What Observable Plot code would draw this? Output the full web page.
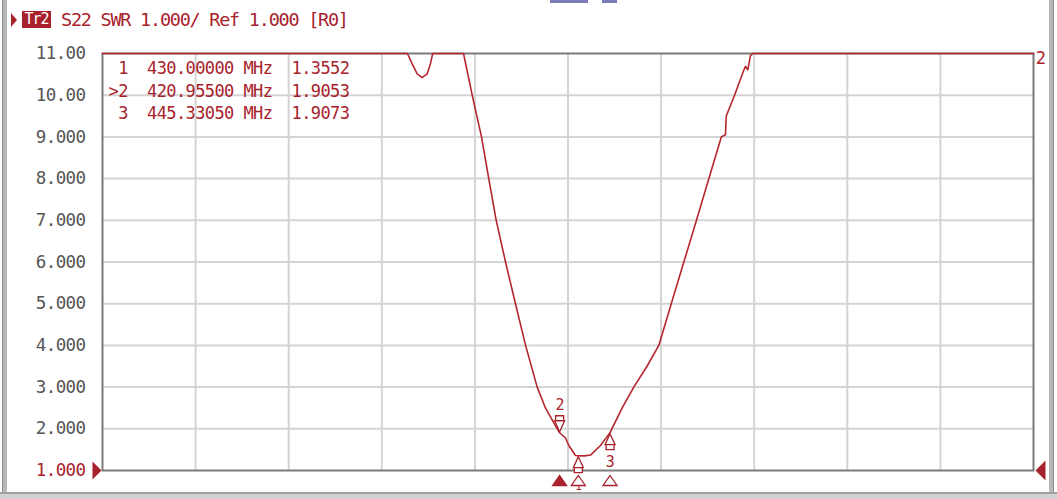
<!DOCTYPE html>
<html>
<head>
<meta charset="utf-8">
<script src="https://cdn.jsdelivr.net/npm/d3@7"></script>
<script src="https://cdn.jsdelivr.net/npm/@observablehq/plot@0.6"></script>
<style>
  html, body { margin: 0; padding: 0; background: #ffffff; }
  #wrap { position: relative; width: 1057px; height: 499px; overflow: hidden; background: #fff; }
  #chart { position: absolute; left: 0; top: 0; }
  #chart svg text { white-space: pre; letter-spacing: -0.6px; }
  .hdr { position: absolute; font-family: "DejaVu Sans Mono", monospace; color: #a8222c; white-space: pre; }
</style>
</head>
<body>
<div id="wrap">
  <div id="chart"></div>
  <div style="position:absolute;left:2px;top:0;width:4px;height:499px;background:#b8b8b8;border-left:1px solid #8c8c8c;"></div>
  <div style="position:absolute;left:1049px;top:0;width:4px;height:499px;background:#b8b8b8;border-right:1px solid #8c8c8c;"></div>
  <div style="position:absolute;left:0;top:492px;width:1057px;height:7px;background:#d2d2d2;border-top:2px solid #a0a0a0;"></div>
  <div style="position:absolute;left:550px;top:0;width:38px;height:3px;background:#5b57a8;opacity:0.8;"></div>
  <div style="position:absolute;left:602px;top:0;width:15px;height:3px;background:#5b57a8;opacity:0.8;"></div>
  <div style="position:absolute;left:11px;top:13px;width:0;height:0;border-top:7px solid transparent;border-bottom:7px solid transparent;border-left:6px solid #a8222c;"></div>
  <div class="hdr" style="left:22px;top:11px;width:29px;height:17px;background:#a8222c;color:#fff;font-size:15px;line-height:17px;text-align:center;letter-spacing:-1px;">Tr2</div>
  <div class="hdr" id="hdrtext" style="left:61px;top:8px;font-size:18.5px;line-height:24px;letter-spacing:-1.25px;"></div>
</div>
<script>
// ---- data ----
const headerText = "S22 SWR 1.000/ Ref 1.000 [R0]";

// trace: frequency (MHz, span 200–650) and SWR (clipped at top of scale, 11)
const freqMHz = [200, 347.4, 349.7, 352.1, 354.5, 356.9, 358.5, 359.6, 374.5, 378.7, 383.2, 386.7, 390.3, 394.8, 399.6, 404.5, 410.1, 414.1, 419.8, 420.955, 423.8, 425.4, 428.6, 430.0, 433.0, 435.9, 440.7, 444.6, 445.33, 451.2, 456.8, 463.2, 468.9, 474.9, 481.0, 487.1, 493.1, 499.1, 501.1, 501.5, 505.5, 509.9, 510.8, 511.9, 513.2, 514.3, 650];
const swr     = [11,  11,    10.75, 10.51, 10.42, 10.51, 10.75, 11,    11,    10,    9,     8,     7,     6,     5,     4,     3,     2.5,   2,     1.9053,  1.78,  1.60,  1.36,  1.3552, 1.35, 1.37, 1.60, 1.86,  1.9073, 2.5,  3,     3.5,   4,     5,     6,     7,     8,     9,     9.05,  9.5,   10,    10.59, 10.69, 10.61, 10.95, 11,    11];

// markers
const markerId = [1, 2, 3];
const markerFreq = [430.0, 420.955, 445.3305];
const markerSwr = [1.3552, 1.9053, 1.9073];
const markerFreqLabel = ["430.00000", "420.95500", "445.33050"];
const markerValLabel = ["1.3552", "1.9053", "1.9073"];
const activeMarker = 2;

// axes
const yTicks = [1, 2, 3, 4, 5, 6, 7, 8, 9, 10, 11];
const yTickLabels = ["1.000", "2.000", "3.000", "4.000", "5.000", "6.000", "7.000", "8.000", "9.000", "10.00", "11.00"];
const xGrid = [245, 290, 335, 380, 425, 470, 515, 560, 605];

// ---- build ----
document.getElementById("hdrtext").textContent = headerText;

const RED = "#a8222c";
const TRACE = "#b5262f";
const GRAY = "#555555";

const trace = freqMHz.map((f, i) => ({f, s: swr[i]}));
const markers = markerId.map((id, i) => ({id, f: markerFreq[i], s: markerSwr[i]}));
const tableText = markers.map((m, i) =>
  (m.id === activeMarker ? ">" : " ") + m.id + "  " + markerFreqLabel[i] + " MHz  " + markerValLabel[i]
).join("\n");

const upMarker = {draw(c) {
  c.moveTo(0, 1); c.lineTo(5, 12); c.lineTo(-5, 12); c.closePath();
  c.moveTo(-4, 12); c.lineTo(4, 12); c.lineTo(4, 17); c.lineTo(-4, 17); c.closePath();
}};
const downMarker = {draw(c) {
  c.moveTo(0, -1); c.lineTo(5, -12); c.lineTo(-5, -12); c.closePath();
  c.moveTo(-4, -12); c.lineTo(4, -12); c.lineTo(4, -17); c.lineTo(-4, -17); c.closePath();
}};
const bottomTri = {draw(c) { c.moveTo(0, 5); c.lineTo(7, 15); c.lineTo(-7, 15); c.closePath(); }};
const leftRef = {draw(c) { c.moveTo(-10, -9); c.lineTo(-1, 0); c.lineTo(-10, 9); c.closePath(); }};
const rightRef = {draw(c) { c.moveTo(12, -10); c.lineTo(2, 0); c.lineTo(12, 10); c.closePath(); }};

const mono = "DejaVu Sans Mono";

const chart = Plot.plot({
  width: 1057,
  height: 499,
  marginTop: 53,
  marginBottom: 29,
  marginLeft: 102,
  marginRight: 24,
  style: {fontFamily: mono, background: "transparent", overflow: "visible"},
  x: {domain: [200, 650], axis: null, label: null},
  y: {domain: [1, 11], axis: null, label: null},
  marks: [
    Plot.gridX(xGrid, {stroke: "#d4d4d4", strokeOpacity: 1, strokeWidth: 2}),
    Plot.gridY(yTicks.slice(1, -1), {stroke: "#d4d4d4", strokeOpacity: 1, strokeWidth: 2}),
    Plot.frame({stroke: "#7a7a7a", strokeWidth: 2}),
    Plot.axisY(yTicks.slice(1), {
      label: null, tickSize: 0, tickPadding: 17, fontSize: 17.5, fill: GRAY,
      tickFormat: d => yTickLabels[yTicks.indexOf(d)]
    }),
    Plot.axisY([1], {
      label: null, tickSize: 0, tickPadding: 17, fontSize: 17.5, fill: RED,
      tickFormat: d => yTickLabels[yTicks.indexOf(d)]
    }),
    Plot.text([tableText], {
      text: d => d, frameAnchor: "top-left", dx: 6, dy: 36,
      lineAnchor: "middle", textAnchor: "start", lineHeight: 1.3,
      fontSize: 17, fill: RED
    }),
    Plot.line(trace, {x: "f", y: "s", stroke: TRACE, strokeWidth: 1.6}),
    Plot.dot(markers.filter(m => m.id === activeMarker), {x: "f", y: "s", symbol: downMarker, stroke: RED, fill: "white", strokeWidth: 1.3}),
    Plot.dot(markers.filter(m => m.id !== activeMarker), {x: "f", y: "s", symbol: upMarker, stroke: RED, fill: "white", strokeWidth: 1.3}),
    Plot.text(markers.filter(m => m.id === activeMarker), {x: "f", y: "s", text: d => String(d.id), dy: -28, fill: RED, fontSize: 15}),
    Plot.text(markers.filter(m => m.id === 3), {x: "f", y: "s", text: d => String(d.id), dy: 30, fill: RED, fontSize: 15}),
    Plot.text(markers.filter(m => m.id === 1), {x: "f", y: () => 1, text: d => String(d.id), dy: 16, fill: RED, fontSize: 11}),
    Plot.dot(markers, {x: "f", y: () => 1, symbol: bottomTri, stroke: RED, strokeWidth: 1.3,
      fill: d => d.id === activeMarker ? RED : "white"}),
    Plot.dot([0], {frameAnchor: "bottom-left", symbol: leftRef, fill: RED, stroke: "none"}),
    Plot.dot([0], {frameAnchor: "bottom-right", symbol: rightRef, fill: RED, stroke: "none"}),
    Plot.text(["2"], {text: d => d, frameAnchor: "top-right", dx: 7, dy: -2, fill: RED, fontSize: 17, textAnchor: "middle"})
  ]
});
document.getElementById("chart").appendChild(chart);
</script>
</body>
</html>
